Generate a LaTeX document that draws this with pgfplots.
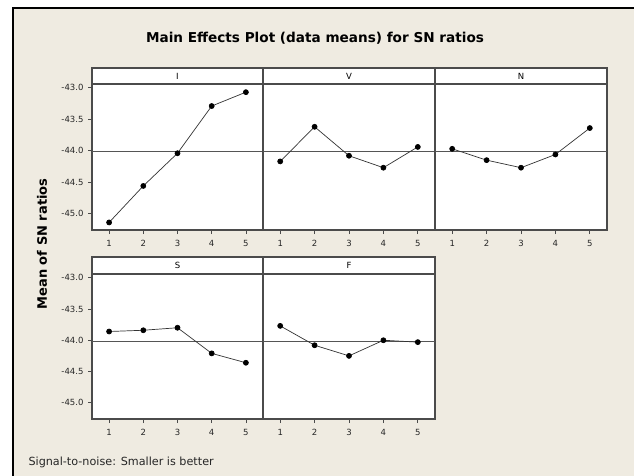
\documentclass[border=0pt]{standalone}
\usepackage{pgfplots}
\pgfplotsset{compat=1.18}
\usepackage{fontspec}
\setmainfont{DejaVu Sans}
\definecolor{bg}{RGB}{239,235,225}
\definecolor{frm}{RGB}{75,75,75}
\definecolor{refl}{RGB}{85,85,85}
\pgfplotsset{
  panel/.style={
    scale only axis, anchor=north west,
    xmin=0.5, xmax=5.5, ymin=-45.26, ymax=-42.94,
    axis background/.style={fill=white},
    axis line style={frm, line width=1.2pt},
    xtick={1,2,3,4,5}, xticklabels={1,2,3,4,5},
    ytick={-45,-44.5,-44,-43.5,-43},
    yticklabels={-45.0,-44.5,-44.0,-43.5,-43.0},
    tick align=outside, xtick pos=left, ytick pos=left,
    major tick length=4pt,
    tick style={frm, line width=0.8pt},
    ticklabel style={font=\fontsize{8.5}{10}\selectfont, text=black!85},
    xticklabel style={yshift=-2.5pt},
    yticklabel style={xshift=-1pt},
  },
  inner/.style={ytick=\empty},
  refline/.style={refl, line width=1pt},
  dat/.style={black!80, line width=0.7pt, mark=*, mark size=2.5pt, mark options={fill=black, draw=black}},
}
\begin{document}
\begin{tikzpicture}[x=1pt,y=1pt]
\useasboundingbox (0,0) rectangle (634,-476);
\fill[white] (0,0) rectangle (634,-476);
\fill[bg] (13,-8) rectangle (634,-476);
\draw[black, line width=1.5pt] (13,-476) -- (13,-8) -- (634,-8);
\node[font=\fontsize{13.6}{16}\selectfont\bfseries] at (315,-38) {Main Effects Plot (data means) for SN ratios};
\node[font=\fontsize{13}{15}\selectfont\bfseries, rotate=90] at (42,-244) {Mean of SN ratios};
\node[font=\fontsize{11.2}{13}\selectfont, anchor=west, text=black!85] at (25,-462) {Signal-to-noise: Smaller is better};

% strips
\foreach \xa/\xb/\lab in {92/263/I, 263/435/V, 435/607/N}{
  \draw[frm, line width=1.2pt, fill=white] (\xa,-68) rectangle (\xb,-84);
  \node[font=\fontsize{8.5}{10}\selectfont] at ({(\xa+\xb)/2},-76) {\lab};
}
\foreach \xa/\xb/\lab in {92/263/S, 263/435/F}{
  \draw[frm, line width=1.2pt, fill=white] (\xa,-257) rectangle (\xb,-274);
  \node[font=\fontsize{8.5}{10}\selectfont] at ({(\xa+\xb)/2},-265.5) {\lab};
}

\begin{axis}[panel, at={(92pt,-84pt)}, width=171pt, height=146pt]
\addplot[refline] coordinates {(0.5,-44.02) (5.5,-44.02)};
\addplot[dat] coordinates {(1,-45.14) (2,-44.56) (3,-44.04) (4,-43.29) (5,-43.07)};
\end{axis}
\begin{axis}[panel, inner, at={(263pt,-84pt)}, width=172pt, height=146pt]
\addplot[refline] coordinates {(0.5,-44.02) (5.5,-44.02)};
\addplot[dat] coordinates {(1,-44.17) (2,-43.62) (3,-44.08) (4,-44.27) (5,-43.94)};
\end{axis}
\begin{axis}[panel, inner, at={(435pt,-84pt)}, width=172pt, height=146pt]
\addplot[refline] coordinates {(0.5,-44.02) (5.5,-44.02)};
\addplot[dat] coordinates {(1,-43.97) (2,-44.15) (3,-44.27) (4,-44.06) (5,-43.64)};
\end{axis}
\begin{axis}[panel, at={(92pt,-274pt)}, width=171pt, height=145pt]
\addplot[refline] coordinates {(0.5,-44.02) (5.5,-44.02)};
\addplot[dat] coordinates {(1,-43.86) (2,-43.84) (3,-43.80) (4,-44.21) (5,-44.36)};
\end{axis}
\begin{axis}[panel, inner, at={(263pt,-274pt)}, width=172pt, height=145pt]
\addplot[refline] coordinates {(0.5,-44.02) (5.5,-44.02)};
\addplot[dat] coordinates {(1,-43.77) (2,-44.08) (3,-44.25) (4,-44.00) (5,-44.03)};
\end{axis}
\end{tikzpicture}
\end{document}
